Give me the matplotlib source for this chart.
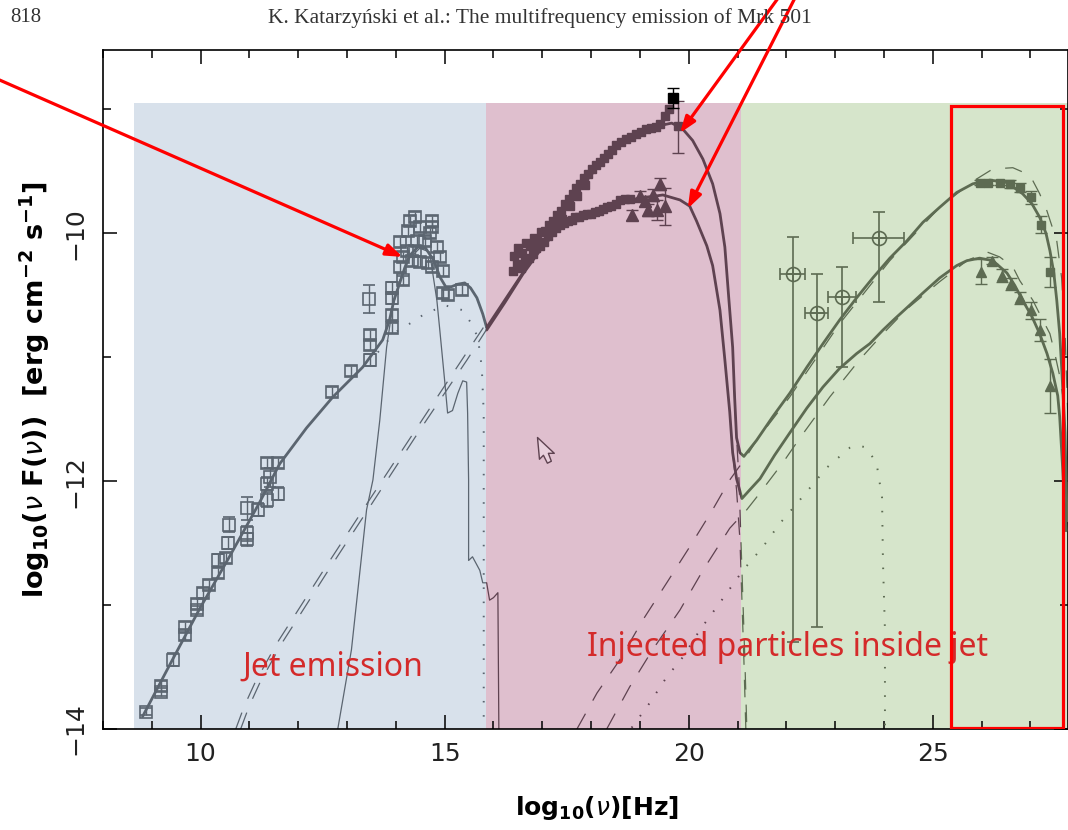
import matplotlib
matplotlib.use('Agg')
import matplotlib.pyplot as plt
from matplotlib.patches import Rectangle
from matplotlib.path import Path

# --- data (log10 nu, log10 nu F(nu)) ---

# shaded bands: (start, end, fill colour, ink colour for marks inside)
band_edges = [8.63, 15.84, 21.07, 28.5]
band_top = -8.95
band_fill = ['#d8e1eb', '#dfbfce', '#d6e5cb']
band_ink = ['#5b6570', '#5e4250', '#5d6b52']

# total model, common synchrotron part
sync_x = [8.81, 9.37, 9.98, 10.59, 11.21, 11.62, 12.17, 12.71, 13.32, 13.73, 13.87, 13.96,
          14.08, 14.18, 14.28, 14.45, 14.61, 14.78, 14.90, 15.02, 15.14, 15.27, 15.41,
          15.53, 15.66, 15.78, 15.86]
sync_y = [-13.90, -13.48, -13.03, -12.61, -12.17, -11.86, -11.57, -11.32, -11.08, -10.86,
          -10.70, -10.54, -10.40, -10.28, -10.18, -10.11, -10.12, -10.22, -10.35, -10.43,
          -10.43, -10.41, -10.40, -10.44, -10.52, -10.65, -10.76]

# total model, high state (from 15.86 on)
high_x = [15.86, 16.23, 16.60, 16.95, 17.36, 17.77, 18.18, 18.59, 19.00, 19.41, 19.65, 19.86,
          20.08, 20.29, 20.49, 20.64, 20.74, 20.82, 20.90, 20.94, 20.98, 21.05, 21.13, 21.39,
          21.72, 22.07, 22.42, 22.75, 23.09, 23.44, 23.77, 24.12, 24.47, 24.80, 25.14, 25.49,
          25.82, 26.17, 26.52, 26.84, 27.03, 27.19, 27.32, 27.40, 27.48, 27.54, 27.60, 27.64,
          27.71, 27.75]
high_y = [-10.76, -10.54, -10.32, -10.11, -9.87, -9.64, -9.44, -9.29, -9.19, -9.13, -9.11,
          -9.15, -9.25, -9.40, -9.60, -9.84, -10.11, -10.52, -10.92, -11.32, -11.65, -11.77,
          -11.80, -11.67, -11.48, -11.29, -11.08, -10.89, -10.70, -10.52, -10.36, -10.20,
          -10.06, -9.91, -9.79, -9.67, -9.60, -9.57, -9.59, -9.68, -9.76, -9.87, -10.00,
          -10.14, -10.32, -10.54, -10.81, -11.08, -11.61, -12.32]

# total model, low state
low_x = [15.86, 16.23, 16.60, 16.95, 17.25, 17.56, 17.97, 18.44, 18.93, 19.47, 19.82, 20.02,
         20.16, 20.37, 20.49, 20.64, 20.74, 20.84, 20.90, 20.98, 21.09, 21.25, 21.46, 21.76,
         22.07, 22.42, 22.75, 23.09, 23.44, 23.71, 23.98, 24.22, 24.47, 24.80, 25.14, 25.49,
         25.70, 25.96, 26.23, 26.52, 26.68, 26.84, 27.03, 27.19, 27.34, 27.46, 27.56, 27.60,
         27.66, 27.73]
low_y = [-10.78, -10.56, -10.33, -10.14, -10.00, -9.91, -9.84, -9.77, -9.72, -9.69, -9.73,
         -9.78, -9.90, -10.10, -10.26, -10.62, -11.02, -11.44, -11.77, -11.98, -12.14,
         -12.07, -11.98, -11.79, -11.61, -11.41, -11.24, -11.09, -10.97, -10.89, -10.78,
         -10.69, -10.60, -10.48, -10.36, -10.26, -10.22, -10.20, -10.22, -10.32, -10.42,
         -10.54, -10.67, -10.81, -10.97, -11.13, -11.31, -11.48, -11.89, -12.40]

# jet synchrotron (thin solid)
jet_x = [12.81, 13.09, 13.40, 13.53, 13.67, 13.81, 13.93, 14.08, 14.28, 14.49, 14.69, 14.84,
         14.90, 15.00, 15.06, 15.16, 15.27, 15.37, 15.45, 15.47, 15.49, 15.49, 15.57, 15.72,
         15.78, 15.86, 15.92, 16.00, 16.09, 16.11]
jet_y = [-14.00, -13.36, -12.23, -11.99, -11.51, -10.92, -10.60, -10.38, -10.20, -10.12,
         -10.15, -10.54, -10.78, -11.19, -11.45, -11.43, -11.29, -11.19, -11.20, -11.45,
         -11.99, -12.64, -12.61, -12.72, -12.82, -12.82, -12.96, -12.94, -12.90, -14.00]

# jet SSC (dashed pair)
ssc_a_x = [10.72, 10.90, 11.11, 11.56, 12.03, 12.50, 13.46, 14.43, 15.37, 15.86]
ssc_a_y = [-14.00, -13.81, -13.63, -13.31, -13.02, -12.73, -12.15, -11.57, -11.01, -10.72]
ssc_b_x = [10.82, 11.00, 11.21, 11.66, 12.13, 12.60, 13.56, 14.52, 15.46, 15.90]
ssc_b_y = [-14.00, -13.81, -13.63, -13.31, -13.02, -12.73, -12.15, -11.57, -11.02, -10.75]

# injected particles, synchrotron tails (dashed)
tail_a_x = [20.90, 20.96, 21.03, 21.07, 21.11, 21.15, 21.19]
tail_a_y = [-10.92, -11.51, -11.99, -12.48, -12.96, -13.44, -14.00]
tail_b_x = [20.90, 20.98, 21.05, 21.09, 21.13, 21.17]
tail_b_y = [-11.77, -12.07, -12.48, -12.96, -13.44, -14.00]

# injected particles, Compton (dashed)
ic_a_x = [17.71, 18.12, 18.59, 19.06, 19.55, 20.02, 20.49, 20.84, 21.15, 21.39, 22.07, 23.09,
          24.12, 25.14, 25.82, 26.23, 26.64, 26.99, 27.19, 27.34, 27.54, 27.64, 27.71, 27.77]
ic_a_y = [-14.00, -13.71, -13.44, -13.12, -12.82, -12.53, -12.23, -11.99, -11.82, -11.67,
          -11.32, -10.73, -10.22, -9.79, -9.58, -9.48, -9.47, -9.53, -9.68, -9.82, -10.06,
          -10.36, -10.81, -11.51]
ic_b_x = [18.32, 18.79, 19.26, 19.82, 20.29, 20.84, 21.19, 21.39, 21.66, 21.93, 22.28, 22.89,
          23.50, 23.98, 24.47, 25.14, 25.70, 26.11, 26.37, 26.64, 26.78, 27.05, 27.19, 27.40,
          27.50, 27.60, 27.71]
ic_b_y = [-14.00, -13.66, -13.36, -13.04, -12.72, -12.38, -12.23, -12.13, -11.99, -11.85,
          -11.65, -11.32, -11.02, -10.81, -10.61, -10.39, -10.22, -10.15, -10.19, -10.27,
          -10.38, -10.54, -10.65, -10.81, -10.97, -11.15, -11.43]

# dotted components
dot_ic_x = [18.83, 19.20, 19.55, 19.88, 20.23, 20.64, 21.11, 21.52, 21.87, 22.28, 22.83,
            23.30, 23.46, 23.65, 23.85, 23.96, 23.98, 24.02, 24.02]
dot_ic_y = [-13.99, -13.79, -13.58, -13.42, -13.20, -12.98, -12.72, -12.53, -12.34, -12.15,
            -11.89, -11.73, -11.71, -11.73, -11.86, -12.13, -12.66, -13.20, -14.00]
dot_syn_x = [13.63, 13.98, 14.32, 14.55, 15.00, 15.37, 15.55, 15.68, 15.76, 15.80, 15.80]
dot_syn_y = [-10.96, -10.80, -10.72, -10.66, -10.58, -10.62, -10.73, -10.84, -11.08, -11.45,
             -14.00]

# radio / optical data (open squares)
opt_x = [8.89, 9.18, 9.18, 9.43, 9.69, 9.69, 9.92, 9.92, 10.04, 10.18, 10.35, 10.35, 10.53,
         10.57, 10.59, 10.96, 10.96, 10.96, 11.17, 11.37, 11.37, 11.43, 11.58, 11.37, 11.58,
         12.70, 13.09, 13.46, 13.46, 13.46, 13.44, 13.93, 13.93, 13.93, 13.93, 14.14, 14.08,
         14.14, 14.08, 14.24, 14.28, 14.39, 14.49, 14.59, 14.69, 14.75, 14.84, 14.90, 14.75,
         14.96, 14.39, 14.49, 14.96, 15.06, 15.35, 14.34, 14.43, 14.22, 14.75, 14.65]
opt_y = [-13.86, -13.65, -13.70, -13.44, -13.18, -13.24, -12.99, -13.04, -12.90, -12.84,
         -12.64, -12.74, -12.62, -12.50, -12.35, -12.42, -12.47, -12.22, -12.23, -12.15,
         -12.02, -11.97, -12.10, -11.85, -11.85, -11.28, -11.11, -10.82, -10.90, -11.02,
         -10.53, -10.76, -10.66, -10.52, -10.44, -10.38, -10.27, -10.19, -10.07, -9.98,
         -9.90, -9.87, -9.95, -10.06, -10.00, -9.90, -10.11, -10.19, -10.27, -10.30, -10.14,
         -10.23, -10.48, -10.50, -10.46, -10.22, -10.06, -10.14, -9.95, -10.24]
opt_err = [0.03, 0.04, 0.03, 0.05, 0.04, 0.04, 0.04, 0.03, 0.04, 0.04, 0.05, 0.04, 0.04,
           0.05, 0.06, 0.06, 0.05, 0.09, 0.05, 0.06, 0.05, 0.08, 0.05, 0.04, 0.04, 0.04,
           0.04, 0.04, 0.04, 0.05, 0.11, 0.04, 0.04, 0.05, 0.05, 0.04, 0.04, 0.04, 0.04,
           0.04, 0.04, 0.04, 0.04, 0.04, 0.04, 0.04, 0.04, 0.04, 0.04, 0.04, 0.04, 0.04,
           0.04, 0.04, 0.04, 0.04, 0.04, 0.04, 0.04, 0.04]

# X-ray data, high state (filled squares)
xh_x = [16.42, 16.50, 16.58, 16.66, 16.74, 16.82, 16.90, 16.98, 17.06, 17.14, 17.22, 17.30,
        17.38, 17.46, 17.54, 17.62, 17.70, 17.78, 17.86, 17.94, 18.02, 18.10, 18.18, 18.26,
        18.34, 18.42, 18.52, 18.62, 18.72, 18.82, 18.92, 19.02, 19.12, 19.22, 19.32, 19.42,
        19.52, 19.60, 17.40, 17.56, 17.72, 17.88]
xh_y = [-10.18, -10.12, -10.16, -10.08, -10.10, -10.04, -10.06, -9.99, -9.98, -9.93, -9.90,
        -9.85, -9.82, -9.76, -9.72, -9.68, -9.63, -9.60, -9.55, -9.52, -9.48, -9.45, -9.42,
        -9.39, -9.36, -9.33, -9.29, -9.26, -9.24, -9.22, -9.20, -9.18, -9.16, -9.15, -9.14,
        -9.12, -9.05, -9.00, -9.88, -9.78, -9.70, -9.61]

# X-ray data, low state (filled squares and triangles)
xl_x = [16.40, 16.48, 16.56, 16.64, 16.72, 16.80, 16.88, 16.96, 17.04, 17.12, 17.20, 17.28,
        17.36, 17.44, 17.52, 17.60, 17.68, 17.76, 17.84, 17.92, 18.00, 18.08, 18.16, 18.24,
        18.32, 18.40, 18.50, 18.60, 18.70, 18.80]
xl_y = [-10.30, -10.25, -10.28, -10.22, -10.20, -10.17, -10.12, -10.10, -10.07, -10.02,
        -9.99, -9.96, -9.93, -9.92, -9.90, -9.89, -9.87, -9.87, -9.85, -9.84, -9.84, -9.83,
        -9.82, -9.80, -9.79, -9.78, -9.76, -9.73, -9.72, -9.72]
xt_x = [18.83, 19.00, 19.10, 19.16, 19.26, 19.34, 19.41, 19.51]
xt_y = [-9.85, -9.70, -9.74, -9.81, -9.69, -9.81, -9.60, -9.78]
xt_err = [0.04, 0.04, 0.04, 0.05, 0.05, 0.08, 0.05, 0.15]

# highest X-ray point with large error, and the black point above the bands
xe_x, xe_y, xe_lo, xe_hi = 19.77, -9.13, 0.22, 0.20
xb_x, xb_y, xb_err = 19.67, -8.91, 0.08

# EGRET (open circles)
eg_x = [22.13, 22.62, 23.14, 23.89]
eg_y = [-10.33, -10.64, -10.51, -10.04]
eg_xerr = [0.26, 0.24, 0.28, 0.52]
eg_lo = [2.97, 2.54, 0.57, 0.51]
eg_hi = [0.30, 0.31, 0.24, 0.21]

# TeV data
tev_hi_x = [25.96, 26.13, 26.37, 26.58, 26.78, 27.01, 27.21, 27.40]
tev_hi_y = [-9.59, -9.59, -9.59, -9.60, -9.63, -9.71, -9.93, -10.31]
tev_hi_err = [0.02, 0.02, 0.02, 0.03, 0.04, 0.05, 0.07, 0.12]
tev_lo_x = [25.98, 26.21, 26.41, 26.60, 26.78, 27.01, 27.19, 27.40]
tev_lo_y = [-10.31, -10.22, -10.34, -10.41, -10.52, -10.62, -10.78, -11.23]
tev_lo_err = [0.10, 0.03, 0.05, 0.05, 0.05, 0.07, 0.09, 0.22]

# overlay notes
notes = ['Jet emission', 'Injected particles inside jet']
note_x = [10.86, 17.91]
note_y = [-13.50, -13.34]
box_x0, box_x1, box_y0, box_y1 = 25.37, 27.66, -13.99, -8.97
cursor_xy = (16.89, -11.645)


fig = plt.figure(figsize=(10.68, 8.3), dpi=100)
W, H = 1068.0, 830.0
ax = fig.add_axes([103 / W, 101 / H, (1067.5 - 103) / W, (729 - 50) / H])
ax.set_xlim(8.0, 27.76)
ax.set_ylim(-14.0, -8.52)

rects = []
for i in range(3):
    r = Rectangle((band_edges[i], -14.0), band_edges[i + 1] - band_edges[i], band_top + 14.0,
                  facecolor=band_fill[i], edgecolor='none', zorder=0.5)
    ax.add_patch(r)
    rects.append(r)


def curve(x, y, **kw):
    # draw the same line once per band, tinted like the band
    for r, ink in zip(rects, band_ink):
        ln, = ax.plot(x, y, color=ink, **kw)
        ln.set_clip_path(r)


thick = dict(lw=2.0, solid_capstyle='round', zorder=3)
curve(sync_x, sync_y, **thick)
curve(high_x, high_y, **thick)
curve(low_x, low_y, **thick)
curve(jet_x, jet_y, lw=0.9, zorder=2)

dash = dict(lw=0.9, ls=(0, (14, 12)), zorder=2)
for xx, yy in [(ssc_a_x, ssc_a_y), (ssc_b_x, ssc_b_y), (tail_a_x, tail_a_y),
               (tail_b_x, tail_b_y), (ic_a_x, ic_a_y), (ic_b_x, ic_b_y)]:
    curve(xx, yy, **dash)

dots = dict(lw=1.4, ls=(0, (0.8, 6.5)), zorder=2)
curve(dot_ic_x, dot_ic_y, **dots)
curve(dot_syn_x, dot_syn_y, **dots)

# radio / optical
c = band_ink[0]
ax.errorbar(opt_x, opt_y, yerr=opt_err, fmt='s', ms=9, mfc='none', mec=c, mew=1.2,
            ecolor=c, elinewidth=1.0, capsize=4, capthick=1.0, zorder=4)

# X-rays
c = band_ink[1]
ax.plot(xh_x, xh_y, 's', ms=6, color=c, zorder=4)
ax.plot(xl_x, xl_y, 's', ms=6, color=c, zorder=4)
ax.errorbar(xt_x, xt_y, yerr=xt_err, fmt='^', ms=8, color=c, elinewidth=1.0, capsize=4,
            zorder=4)
ax.errorbar([xe_x], [xe_y], yerr=[[xe_lo], [xe_hi]], fmt='s', ms=6, color=c,
            elinewidth=1.0, capsize=4, zorder=4)
ax.errorbar([xb_x], [xb_y], yerr=[xb_err], fmt='s', ms=7, color='black', elinewidth=1.0,
            capsize=4, zorder=5)

# gamma rays
c = band_ink[2]
ax.errorbar(eg_x, eg_y, xerr=eg_xerr, yerr=[eg_lo, eg_hi], fmt='o', ms=10, mfc='none',
            mec=c, mew=1.2, ecolor=c, elinewidth=1.2, capsize=4, zorder=4)
ax.plot(eg_x, eg_y, '+', ms=10, color=c, mew=1.2, zorder=4)
ax.errorbar(tev_hi_x, tev_hi_y, yerr=tev_hi_err, fmt='s', ms=6, color=c, elinewidth=1.0,
            capsize=4, zorder=4)
ax.errorbar(tev_lo_x, tev_lo_y, yerr=tev_lo_err, fmt='^', ms=7, color=c, elinewidth=1.0,
            capsize=4, zorder=4)

# axes cosmetics
ax.set_xticks([10, 15, 20, 25])
ax.set_xticks(range(8, 28), minor=True)
ax.set_yticks([-14, -12, -10])
ax.set_yticks([-13, -11, -9], minor=True)
ax.set_xticklabels(['10', '15', '20', '25'])
ax.set_yticklabels(['\u221214', '\u221212', '\u221210'])
ax.tick_params(which='both', direction='in', top=True, right=True, width=1.1)
ax.tick_params(which='major', length=10)
ax.tick_params(which='minor', length=6)
ax.tick_params(axis='x', pad=9, labelsize=18, labelcolor='#222222')
ax.tick_params(axis='y', pad=11, labelsize=18, labelcolor='#222222', labelrotation=90)
for lab in ax.get_xticklabels() + ax.get_yticklabels():
    lab.set_family(['Liberation Sans Narrow', 'DejaVu Sans'])
for lab in ax.get_yticklabels():
    lab.set_va('center')
for s in ax.spines.values():
    s.set_linewidth(1.2)

ax.set_xlabel(r'log$_{\mathbf{10}}$($\nu$)[Hz]', fontsize=18, fontweight='bold',
              family='DejaVu Sans')
ax.xaxis.set_label_coords((597 - 103) / 964.5, (729 - 808) / 679.0)
ax.xaxis.label.set_va('center')
ax.set_ylabel(r'log$_{\mathbf{10}}$($\nu$ F($\nu$))  [erg cm$^{\mathbf{-2}}$ s$^{\mathbf{-1}}$]',
              fontsize=19.5, fontweight='bold', family='DejaVu Sans')
ax.yaxis.set_label_coords((35 - 103) / 964.5, 0.5)
ax.yaxis.label.set_va('center')

# page header of the scanned paper
fig.text(10 / W, 1 - 18 / H, '818', family='Liberation Serif', fontsize=15, va='center',
         color='#333333')
fig.text(540 / W, 1 - 18 / H, 'K. Katarzy\u0144ski et al.: The multifrequency emission of Mrk 501',
         family='Liberation Serif', fontsize=15.5, va='center', ha='center', color='#333333')

# red overlay notes
for t, tx, ty in zip(notes, note_x, note_y):
    ax.text(tx, ty, t, color='#d42a2a', fontsize=23, family=['Noto Sans', 'DejaVu Sans'],
            va='center', ha='left', zorder=6)

ax.add_patch(Rectangle((box_x0, box_y0), box_x1 - box_x0, box_y1 - box_y0, fill=False,
                       edgecolor='red', lw=2.3, zorder=6))

arrow = dict(arrowstyle='-|>,head_length=0.7,head_width=0.25', color='red', lw=2.3,
             mutation_scale=14, shrinkA=0, shrinkB=0)
ax.annotate('', xy=(14.14, -10.19), xytext=(-5, 752), textcoords='figure pixels',
            arrowprops=arrow, zorder=6)
ax.annotate('', xy=(19.82, -9.19), xytext=(784, 840), textcoords='figure pixels',
            arrowprops=arrow, zorder=6)
ax.annotate('', xy=(19.98, -9.80), xytext=(799, 840), textcoords='figure pixels',
            arrowprops=arrow, zorder=6)

# mouse pointer left in the screenshot
pointer = Path([(0, 0), (17, -16), (11, -16), (14, -24), (10, -26), (6, -18), (2, -22), (0, 0)],
               [Path.MOVETO] + [Path.LINETO] * 6 + [Path.CLOSEPOLY])
ax.plot(*cursor_xy, marker=pointer, ms=37, mfc='#e8d0dc', mec='#5e4250', mew=1.0,
        zorder=6)

fig.savefig('out.png', dpi=100)
